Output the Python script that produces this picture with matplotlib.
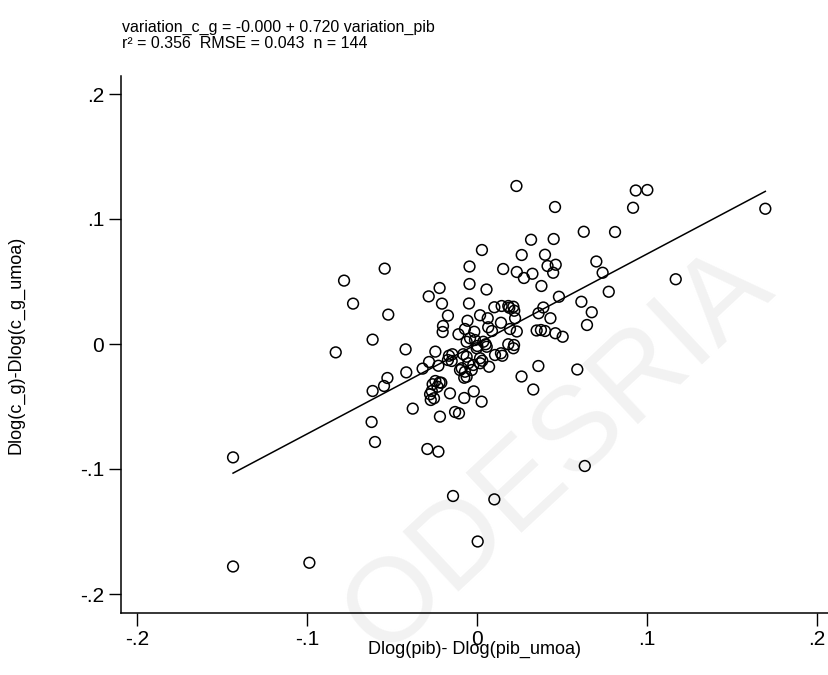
import matplotlib
matplotlib.use('Agg')
import matplotlib.pyplot as plt
import numpy as np

# Dlog(pib) - Dlog(pib_umoa)
x = np.array([
    -0.1435, -0.1435, -0.0986, -0.0620, -0.0600, -0.0543, -0.0782, -0.0729,
    -0.0522, -0.0614, -0.0831, -0.0527, -0.0547, -0.0614, -0.0420, -0.0416,
    -0.0378, -0.0284, -0.0220, -0.0206, -0.0171, -0.0292, -0.0227, -0.0141,
    0.0102, 0.0004, 0.0634, -0.0218, -0.0129, -0.0106, -0.0159, -0.0075,
    -0.0019, 0.0027, -0.0245, -0.0282, -0.0320, -0.0245, -0.0220, -0.0261,
    -0.0232, -0.0266, -0.0276, -0.0253, -0.0272, -0.0227, -0.0165, -0.0145,
    -0.0171, -0.0149, -0.0109, -0.0200, -0.0202, -0.0071, -0.0056, -0.0047,
    -0.0044, -0.0044, 0.0029, 0.0056, 0.0154, 0.0232, 0.0459, 0.0628,
    0.0318, 0.0451, 0.0263, 0.0400, 0.0702, 0.0415, 0.0463, 0.0234,
    0.0326, 0.0448, 0.0276, 0.0379, 0.0482, 0.0614, 0.0675, 0.0647,
    0.0934, 0.1002, 0.0918, 0.0812, 0.0739, 0.0775, 0.0504, 0.0590,
    0.1169, 0.1696, 0.0390, 0.0362, 0.0432, 0.0102, 0.0145, 0.0184,
    0.0214, 0.0219, 0.0018, 0.0063, 0.0141, 0.0224, 0.0066, -0.0016,
    0.0194, 0.0234, 0.0351, 0.0400, 0.0461, 0.0088, 0.0376, -0.0061,
    -0.0041, -0.0012, -0.0002, 0.0037, 0.0051, -0.0061, -0.0051, -0.0022,
    -0.0031, 0.0018, 0.0018, 0.0071, -0.0061, -0.0071, -0.0081, -0.0090,
    -0.0075, 0.0106, 0.0149, 0.0141, 0.0184, 0.0214, 0.0218, 0.0262,
    0.0361, 0.0331, -0.0100, 0.0057, 0.0031, 0.0002, -0.0210, 0.0190,
])

# Dlog(c_g) - Dlog(c_g_umoa)
y = np.array([
    -0.0907, -0.1780, -0.1750, -0.0624, -0.0784, 0.0603, 0.0507, 0.0323,
    0.0235, 0.0035, -0.0067, -0.0272, -0.0336, -0.0376, -0.0043, -0.0227,
    -0.0517, 0.0381, 0.0448, 0.0323, 0.0227, -0.0840, -0.0861, -0.1216,
    -0.1243, -0.1580, -0.0976, -0.0581, -0.0544, -0.0555, -0.0395, -0.0432,
    -0.0379, -0.0461, -0.0061, -0.0144, -0.0197, -0.0296, -0.0308, -0.0322,
    -0.0342, -0.0376, -0.0402, -0.0434, -0.0448, -0.0174, -0.0094, -0.0082,
    -0.0128, -0.0136, 0.0078, 0.0144, 0.0096, 0.0120, 0.0186, 0.0324,
    0.0480, 0.0620, 0.0752, 0.0436, 0.0600, 0.1264, 0.1096, 0.0898,
    0.0834, 0.0840, 0.0712, 0.0714, 0.0660, 0.0624, 0.0634, 0.0576,
    0.0562, 0.0570, 0.0528, 0.0464, 0.0378, 0.0338, 0.0254, 0.0152,
    0.1228, 0.1232, 0.1090, 0.0896, 0.0570, 0.0418, 0.0058, -0.0204,
    0.0518, 0.1082, 0.0292, 0.0246, 0.0206, 0.0294, 0.0304, 0.0304,
    0.0298, 0.0266, 0.0230, 0.0206, 0.0170, 0.0206, 0.0134, 0.0098,
    0.0120, 0.0100, 0.0108, 0.0104, 0.0086, 0.0104, 0.0112, 0.0018,
    0.0046, 0.0032, -0.0034, 0.0018, -0.0002, -0.0102, -0.0154, -0.0168,
    -0.0208, -0.0154, -0.0114, -0.0182, -0.0262, -0.0222, -0.0082, -0.0194,
    -0.0270, -0.0088, -0.0094, -0.0074, -0.0002, -0.0034, -0.0008, -0.0260,
    -0.0176, -0.0364, -0.0208, -0.0022, -0.0134, -0.0016, -0.0310, 0.0290,
])

intercept = -0.000
slope = 0.720
r2 = 0.356
rmse = 0.043

ticks = [-0.2, -0.1, 0, 0.1, 0.2]
tick_labels = ['-.2', '-.1', '0', '.1', '.2']

plt.rcParams['font.family'] = ['Liberation Sans', 'DejaVu Sans']

W, H = 829, 675
fig = plt.figure(figsize=(W / 100, H / 100), dpi=100)
ax = fig.add_axes([121 / W, 62 / H, 1 - 121 / W, (613 - 76) / H])

# faint watermark from the source document (first letter falls off the page)
fig.text(558 / W, 1 - 452 / H, 'ODESRIA', rotation=43, ha='center', va='center',
         fontsize=86, color='#f2f2f2', zorder=-1)
ax.patch.set_alpha(0)

ax.scatter(x, y, s=60, facecolors='none', edgecolors='black', linewidths=1.1, zorder=3)

xl = np.array([x.min(), x.max()])
ax.plot(xl, intercept + slope * xl, color='black', lw=1.1, zorder=2)

ax.set_xlim((121 - 477) / 1700, (829 - 477) / 1700)
ax.set_ylim((344 - 613) / 1250, (344 - 76) / 1250)

ax.spines['top'].set_visible(False)
ax.spines['right'].set_visible(False)
for s in ('left', 'bottom'):
    ax.spines[s].set_linewidth(1.1)

ax.set_xticks(ticks)
ax.set_xticklabels(tick_labels)
ax.set_yticks(ticks)
ax.set_yticklabels(tick_labels)
ax.tick_params(direction='out', length=9, width=1.0, labelsize=15, pad=3)

ax.set_xlabel('Dlog(pib)- Dlog(pib_umoa)', fontsize=13, labelpad=-6)
ax.set_ylabel('Dlog(c_g)-Dlog(c_g_umoa)', fontsize=13, labelpad=40)

n = len(x)
fig.text(122 / W, 1 - 32 / H,
         'variation_c_g = %.3f + %.3f variation_pib' % (intercept, slope),
         fontsize=11.5, ha='left', va='baseline')
fig.text(122 / W, 1 - 48 / H,
         'r\u00b2 = %.3f  RMSE = %.3f  n = %d' % (r2, rmse, n),
         fontsize=11.5, ha='left', va='baseline')

fig.savefig('out.png', dpi=100)
